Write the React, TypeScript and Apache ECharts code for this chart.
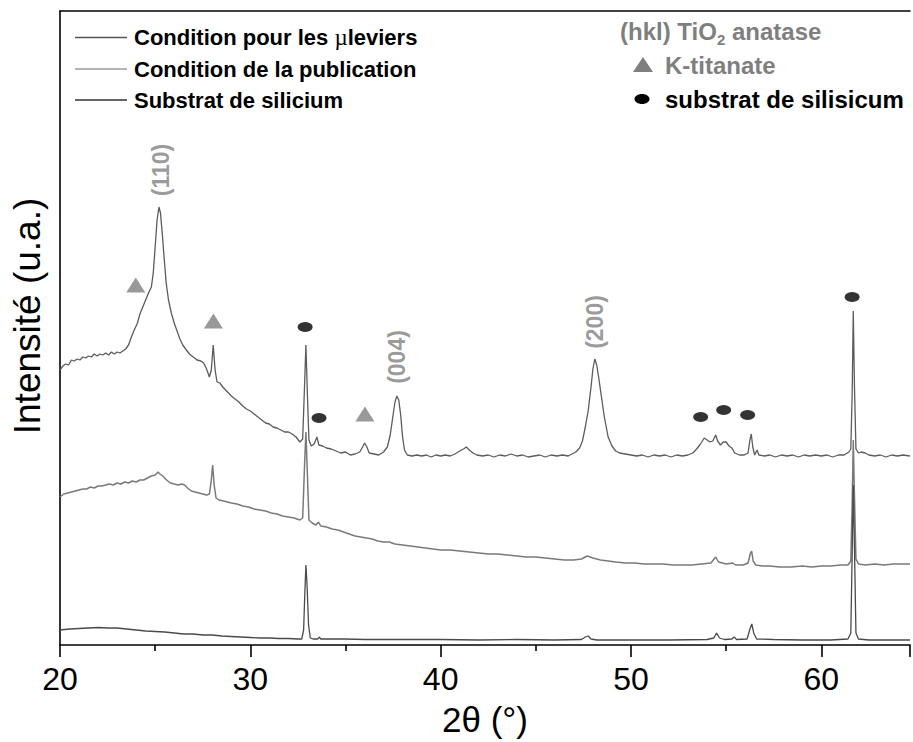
import React, { useEffect, useRef } from "react";
import * as echarts from "echarts";

const FONT = "'Liberation Sans', Arial, Helvetica, sans-serif";

const seriesNames = ["Condition pour les µleviers", "Condition de la publication", "Substrat de silicium"];

// 2θ (°), intensity (a.u.)
const leviers: number[][] = [
  [20.0,275],[20.15,279],[20.3,281],[20.45,280],[20.6,285],[20.75,284],[20.9,286],[21.05,285],[21.2,288],[21.35,287],[21.5,289],[21.65,288],[21.8,291],[21.95,289],[22.1,291],[22.25,290],[22.4,292],[22.55,290],[22.7,293],[22.85,291],[23.0,293],[23.15,292],[23.3,294],[23.45,296],[23.6,300],[23.75,308],[23.9,315],[24.05,321],[24.2,331],[24.35,338],[24.5,345],[24.65,352],[24.8,358],[24.9,372],[25.0,398],[25.1,425],[25.2,438],[25.28,432],[25.38,410],[25.48,385],[25.58,362],[25.7,345],[25.85,332],[26.0,322],[26.15,314],[26.3,306],[26.45,300],[26.6,296],[26.8,291],[27.0,288],[27.2,285],[27.4,284],[27.55,282],[27.7,276],[27.85,268],[27.95,275],[28.05,300],[28.15,275],[28.25,263],[28.4,262],[28.55,258],[28.7,255],[28.85,252],[29.0,249],[29.2,246],[29.4,243],[29.6,239],[29.8,236],[30.0,234],[30.2,231],[30.4,228],[30.6,225],[30.8,222],[31.0,221],[31.2,218],[31.4,217],[31.6,215],[31.8,213],[32.0,213],[32.2,211],[32.4,208],[32.6,203],[32.75,206],[32.85,260],[32.92,300],[33.0,250],[33.08,205],[33.2,199],[33.35,201],[33.5,208],[33.6,200],[33.8,199],[34.0,197],[34.25,196],[34.5,194],[34.75,192],[35.0,193],[35.25,190],[35.5,191],[35.75,193],[35.9,198],[36.0,202],[36.1,199],[36.25,192],[36.5,191],[36.75,190],[37.0,193],[37.2,198],[37.35,210],[37.5,230],[37.6,243],[37.7,249],[37.8,245],[37.9,230],[38.0,208],[38.1,195],[38.25,190],[38.5,189],[38.75,190],[39.0,189],[39.25,190],[39.5,188],[39.75,190],[40.0,189],[40.25,190],[40.5,189],[40.75,191],[41.0,194],[41.2,196],[41.35,198],[41.5,195],[41.7,192],[41.9,190],[42.2,189],[42.5,190],[42.8,188],[43.1,190],[43.4,189],[43.7,191],[44.0,189],[44.3,190],[44.6,188],[44.9,189],[45.2,190],[45.5,188],[45.8,190],[46.1,189],[46.4,190],[46.7,189],[46.9,191],[47.1,193],[47.3,197],[47.45,204],[47.6,218],[47.75,234],[47.9,258],[48.0,276],[48.1,286],[48.2,280],[48.3,268],[48.45,248],[48.6,228],[48.8,208],[49.0,199],[49.2,194],[49.4,192],[49.7,191],[50.0,190],[50.3,189],[50.6,190],[50.9,188],[51.2,190],[51.5,189],[51.8,190],[52.1,188],[52.4,190],[52.7,189],[53.0,190],[53.25,192],[53.45,196],[53.65,201],[53.85,207],[54.0,205],[54.15,203],[54.3,204],[54.45,210],[54.55,204],[54.7,200],[54.85,203],[55.0,203],[55.15,199],[55.3,197],[55.45,192],[55.7,190],[55.95,190],[56.15,192],[56.25,205],[56.32,211],[56.4,198],[56.5,190],[56.62,195],[56.72,190],[57.0,189],[57.3,190],[57.6,188],[57.9,190],[58.2,189],[58.5,190],[58.8,188],[59.1,190],[59.4,189],[59.7,190],[60.0,189],[60.3,190],[60.6,188],[60.9,190],[61.2,190],[61.45,193],[61.55,196],[61.62,250],[61.68,334],[61.74,260],[61.82,196],[61.95,192],[62.1,193],[62.3,192],[62.5,190],[62.8,189],[63.1,190],[63.4,188],[63.7,190],[64.0,189],[64.3,190],[64.66,189]
];

const publication: number[][] = [
  [20.0,148],[20.2,151],[20.4,152],[20.6,153],[20.8,154],[21.0,155],[21.2,156],[21.4,156],[21.6,158],[21.8,157],[22.0,159],[22.2,159],[22.4,160],[22.6,161],[22.8,160],[23.0,162],[23.2,161],[23.4,163],[23.6,162],[23.8,164],[24.0,163],[24.2,165],[24.4,165],[24.6,167],[24.8,169],[25.0,170],[25.15,173],[25.25,171],[25.4,169],[25.6,165],[25.8,162],[26.0,161],[26.2,160],[26.4,161],[26.55,160],[26.7,157],[26.9,154],[27.1,153],[27.3,152],[27.5,151],[27.7,150],[27.85,151],[27.95,165],[28.02,180],[28.1,160],[28.2,147],[28.35,145],[28.6,144],[28.8,143],[29.0,142],[29.3,141],[29.6,139],[29.9,138],[30.2,136],[30.5,135],[30.8,134],[31.1,132],[31.4,131],[31.7,129],[32.0,128],[32.3,127],[32.6,125],[32.75,127],[32.85,180],[32.92,213],[33.0,170],[33.08,125],[33.25,122],[33.45,120],[33.58,123],[33.7,119],[34.0,118],[34.3,116],[34.6,115],[34.9,113],[35.2,111],[35.5,109],[35.8,108],[36.1,107],[36.4,106],[36.7,104],[37.0,103],[37.3,103],[37.6,101],[38.0,100],[38.4,99],[38.8,98],[39.2,97],[39.6,96],[40.0,95],[40.5,95],[41.0,94],[41.5,93],[42.0,92],[42.5,91],[43.0,91],[43.5,90],[44.0,89],[44.5,88],[45.0,88],[45.5,87],[46.0,86],[46.5,85],[47.0,85],[47.4,86],[47.7,89],[48.0,87],[48.4,85],[48.8,84],[49.2,83],[49.7,82],[50.2,82],[50.7,81],[51.2,81],[51.7,81],[52.2,80],[52.7,80],[53.2,80],[53.7,81],[54.2,82],[54.45,88],[54.6,83],[55.0,81],[55.35,82],[55.5,80],[55.9,80],[56.15,82],[56.28,92],[56.34,94],[56.42,84],[56.55,80],[56.9,79],[57.3,79],[57.8,78],[58.4,78],[59.0,79],[59.5,78],[60.0,79],[60.5,79],[61.0,80],[61.4,80],[61.55,84],[61.62,140],[61.68,205],[61.74,150],[61.82,86],[61.95,81],[62.3,80],[62.8,81],[63.3,80],[63.8,81],[64.3,81],[64.66,81]
];

const silicium: number[][] = [
  [20.0,15],[20.5,16],[21.0,16.5],[21.5,17],[22.0,17.5],[22.5,17],[23.0,17],[23.5,16],[24.0,15],[24.5,14],[25.0,13.5],[25.5,13],[26.0,12],[26.5,11],[27.0,11],[27.5,10],[28.0,10],[28.5,9],[29.0,8.5],[29.5,8],[30.0,7.5],[30.5,7],[31.0,7],[31.5,6.5],[32.0,6.5],[32.5,6],[32.7,6],[32.8,15],[32.86,50],[32.92,80],[32.98,60],[33.06,20],[33.15,7],[33.3,6],[33.55,6],[33.62,8],[33.7,6],[34.0,6],[35.0,6],[36.0,5.5],[37.0,5.5],[38.0,5.5],[40.0,5.5],[42.0,5],[44.0,5.5],[46.0,5],[47.4,5.5],[47.6,8],[47.75,9],[47.9,6],[48.2,5],[50.0,5],[52.0,5],[54.0,5.5],[54.35,7],[54.5,12],[54.65,7],[54.9,5.5],[55.3,6],[55.42,8],[55.55,5.5],[56.1,6],[56.25,16],[56.35,21],[56.45,12],[56.6,6],[57.5,5.5],[59.0,5],[60.5,5],[61.4,6],[61.55,12],[61.62,90],[61.68,160],[61.74,100],[61.82,12],[61.95,6],[62.5,5],[63.5,5],[64.66,5]
];

// peak markers
const kTitanate: number[][] = [[23.98,360],[28.06,324],[36.02,231]];
const siSubstrate: number[][] = [[32.88,318],[33.61,227],[53.66,228],[54.87,235],[56.13,230],[61.62,348]];
const hklNames = ["(110)", "(004)", "(200)"];
const hklPos: number[][] = [[25.29,475],[37.73,288],[48.12,323]];

const xTickLabels = ["20", "30", "40", "50", "60"];

export default function App() {
  const ref = useRef<HTMLDivElement>(null);
  useEffect(() => {
    if (!ref.current) return;
    const chart = echarts.init(ref.current, undefined, { renderer: "svg" });
    const axisLine = { lineStyle: { color: "#000", width: 1.6 } };
    const grey = "#7f7f7f";
    const legFont = 24;
    const option: any = {
      animation: false,
      backgroundColor: "#fff",
      textStyle: { fontFamily: FONT },
      grid: { left: 60, right: 0, top: 11, bottom: 97 },
      legend: {
        data: seriesNames,
        orient: "vertical",
        left: 70,
        top: 21,
        itemWidth: 52,
        itemHeight: 14,
        itemGap: 9,
        icon: "path://M0,0L52,0L52,1.3L0,1.3Z",
        formatter: (n: string) => (n === seriesNames[0] ? "Condition pour les {mu|µ}leviers" : n),
        textStyle: {
          fontFamily: FONT,
          fontSize: 22,
          fontWeight: "bold",
          color: "#000",
          padding: [0, 0, 0, 2],
          rich: { mu: { fontFamily: "'Liberation Serif', serif", fontWeight: "normal", fontSize: 23, color: "#000" } },
        },
      },
      xAxis: [
        {
          type: "value",
          min: 20,
          max: 64.66,
          interval: 10,
          axisLine,
          axisTick: { length: 12, lineStyle: { color: "#000", width: 1.6 } },
          minorTick: { show: true, splitNumber: 2, length: 6, lineStyle: { color: "#000", width: 1.6 } },
          axisLabel: {
            fontSize: 32,
            color: "#000",
            margin: 18,
            fontFamily: FONT,
            formatter: (v: number) => (xTickLabels.includes(String(v)) ? String(v) : ""),
          },
          splitLine: { show: false },
          name: "2θ (°)",
          nameLocation: "middle",
          nameGap: 57,
          nameTextStyle: { fontSize: 35, color: "#000", fontFamily: FONT },
        },
        {
          type: "value",
          position: "top",
          min: 20,
          max: 64.66,
          axisLine,
          axisTick: { show: false },
          axisLabel: { show: false },
          splitLine: { show: false },
        },
      ],
      yAxis: {
        type: "value",
        min: 0,
        max: 634,
        axisLine: { show: true, ...axisLine },
        axisTick: { show: false },
        axisLabel: { show: false },
        splitLine: { show: false },
      },
      series: [
        { name: seriesNames[0], type: "line", data: leviers, symbol: "none", lineStyle: { color: "#5c5c5c", width: 1.3 }, itemStyle: { color: "#555" } },
        { name: seriesNames[1], type: "line", data: publication, symbol: "none", lineStyle: { color: "#7a7a7a", width: 1.5 }, itemStyle: { color: "#9a9a9a" } },
        { name: seriesNames[2], type: "line", data: silicium, symbol: "none", lineStyle: { color: "#4a4a4a", width: 1.3 }, itemStyle: { color: "#333" } },
        { name: "K-titanate", type: "scatter", data: kTitanate, symbol: "triangle", symbolSize: [19, 15], itemStyle: { color: grey } },
        { name: "substrat de silisicum", type: "scatter", data: siSubstrate, symbol: "circle", symbolSize: [15, 10], itemStyle: { color: "#000" } },
        {
          name: "hkl",
          type: "scatter",
          symbolSize: 0,
          data: hklPos.map((p, i) => ({ name: hklNames[i], value: p })),
          label: {
            show: true,
            position: "inside",
            rotate: 90,
            formatter: (p: any) => p.name,
            fontFamily: FONT,
            fontSize: 23,
            fontWeight: "bold",
            color: grey,
          },
        },
      ],
      graphic: [
        {
          type: "text",
          x: 27,
          y: 316,
          rotation: Math.PI / 2,
          style: { text: "Intensité (u.a.)", fontFamily: FONT, fontSize: 37, fill: "#000", align: "center", verticalAlign: "middle" },
        },
        { type: "text", x: 620, y: 31, style: { text: "(hkl) TiO", fontFamily: FONT, fontSize: legFont, fontWeight: "bold", fill: grey, align: "left", verticalAlign: "middle" } },
        { type: "text", x: 717, y: 39, style: { text: "2", fontFamily: FONT, fontSize: 15, fontWeight: "bold", fill: grey, align: "left", verticalAlign: "middle" } },
        { type: "text", x: 732, y: 31, style: { text: "anatase", fontFamily: FONT, fontSize: legFont, fontWeight: "bold", fill: grey, align: "left", verticalAlign: "middle" } },
        { type: "polygon", shape: { points: [[643, 57], [653, 72], [633, 72]] }, style: { fill: grey } },
        { type: "text", x: 665, y: 65, style: { text: "K-titanate", fontFamily: FONT, fontSize: legFont, fontWeight: "bold", fill: grey, align: "left", verticalAlign: "middle" } },
        { type: "ellipse", shape: { cx: 642, cy: 99, rx: 7.5, ry: 5 }, style: { fill: "#000" } },
        { type: "text", x: 665, y: 99, style: { text: "substrat de silisicum", fontFamily: FONT, fontSize: legFont, fontWeight: "bold", fill: "#000", align: "left", verticalAlign: "middle" } },
      ],
    };
    chart.setOption(option);
    return () => chart.dispose();
  }, []);
  return <div ref={ref} style={{ position: "fixed", left: 0, top: 0, width: 913, height: 742, background: "#fff" }} />;
}
